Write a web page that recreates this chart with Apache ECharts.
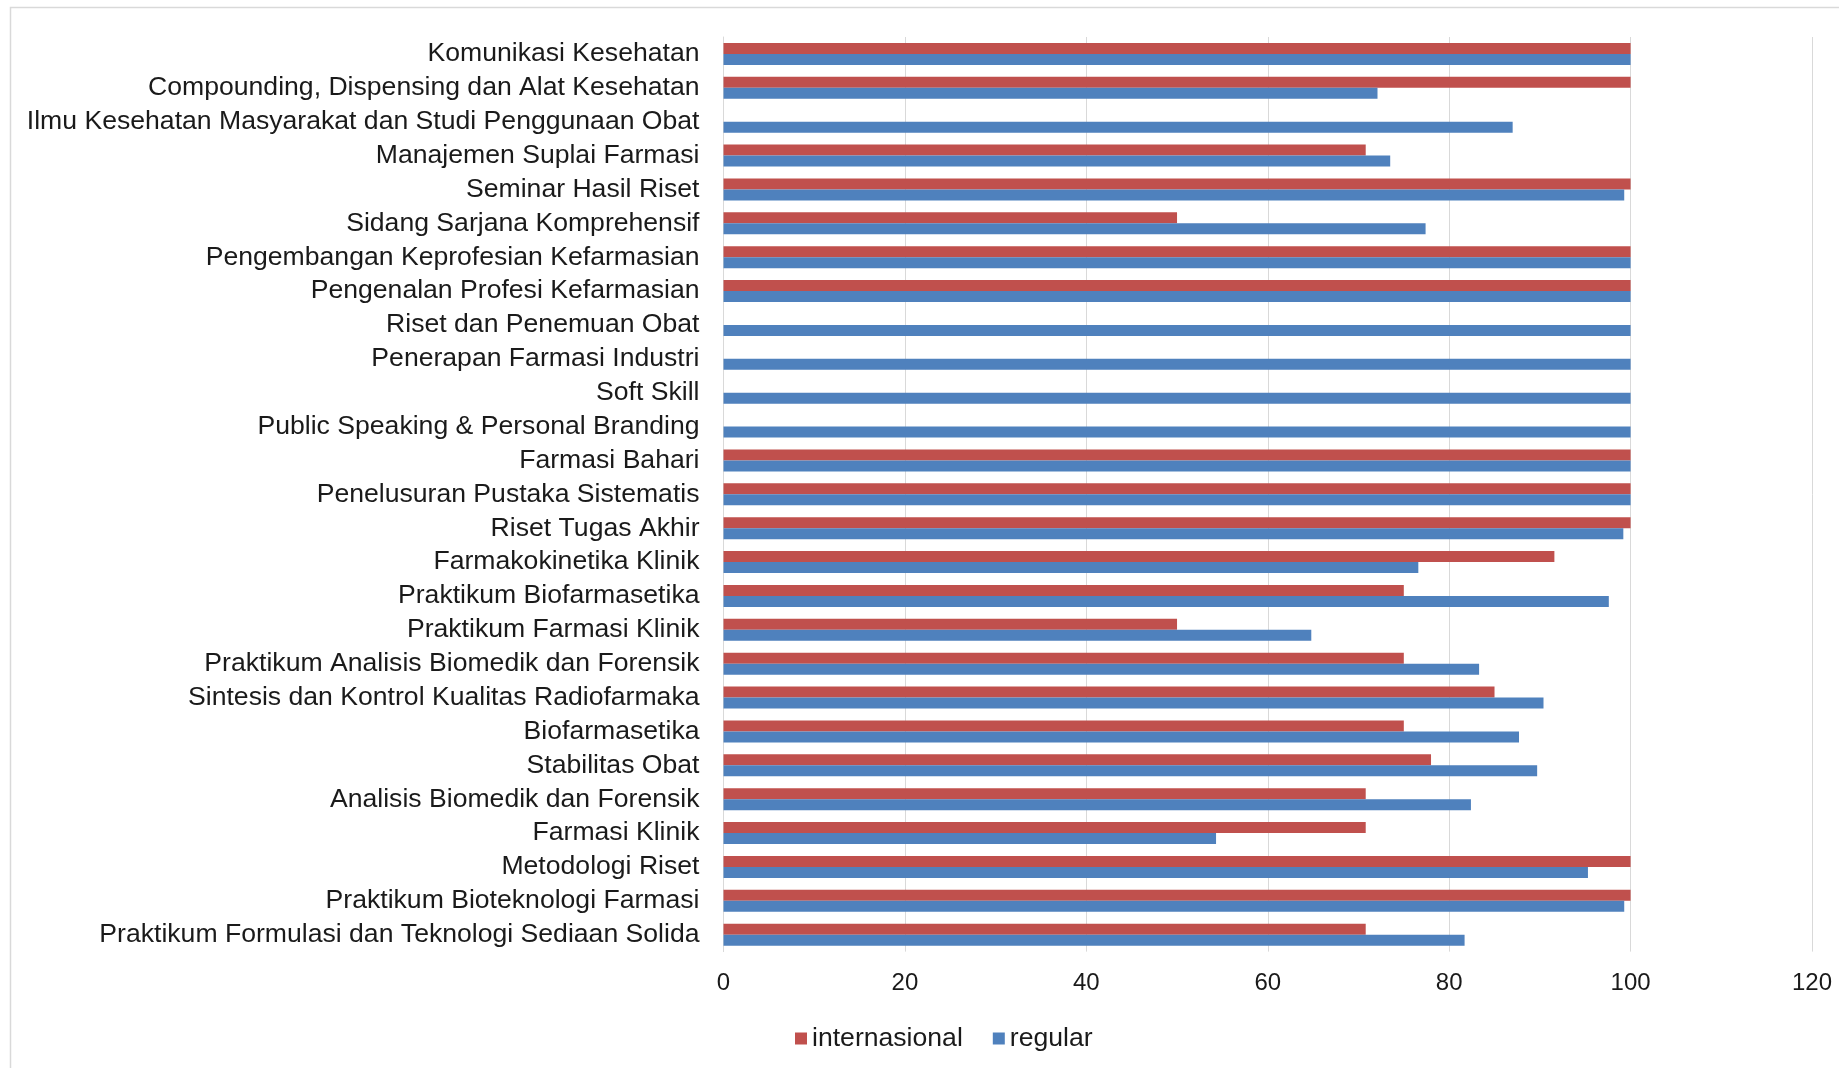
<!DOCTYPE html>
<html>
<head>
<meta charset="utf-8">
<script src="https://cdn.jsdelivr.net/npm/echarts@6/dist/echarts.min.js"></script>
<style>
html,body{margin:0;padding:0;background:#fff;}
#chart{width:1839px;height:1068px;}
</style>
</head>
<body>
<div id="chart"></div>
<script>
const categories = [
  "Komunikasi Kesehatan",
  "Compounding, Dispensing dan Alat Kesehatan",
  "Ilmu Kesehatan Masyarakat dan Studi Penggunaan Obat",
  "Manajemen Suplai Farmasi",
  "Seminar Hasil Riset",
  "Sidang Sarjana Komprehensif",
  "Pengembangan Keprofesian Kefarmasian",
  "Pengenalan Profesi Kefarmasian",
  "Riset dan Penemuan Obat",
  "Penerapan Farmasi Industri",
  "Soft Skill",
  "Public Speaking & Personal Branding",
  "Farmasi Bahari",
  "Penelusuran Pustaka Sistematis",
  "Riset Tugas Akhir",
  "Farmakokinetika Klinik",
  "Praktikum Biofarmasetika",
  "Praktikum Farmasi Klinik",
  "Praktikum Analisis Biomedik dan Forensik",
  "Sintesis dan Kontrol Kualitas Radiofarmaka",
  "Biofarmasetika",
  "Stabilitas Obat",
  "Analisis Biomedik dan Forensik",
  "Farmasi Klinik",
  "Metodologi Riset",
  "Praktikum Bioteknologi Farmasi",
  "Praktikum Formulasi dan Teknologi Sediaan Solida"
];
const internasional = [100, 100, null, 70.8, 100, 50, 100, 100, null, null, null, null, 100, 100, 100, 91.6, 75, 50, 75, 85, 75, 78, 70.8, 70.8, 100, 100, 70.8];
const regular = [100, 72.1, 87, 73.5, 99.3, 77.4, 100, 100, 100, 100, 100, 100, 100, 100, 99.2, 76.6, 97.6, 64.8, 83.3, 90.4, 87.7, 89.7, 82.4, 54.3, 95.3, 99.3, 81.7];
const seriesNames = ["internasional", "regular"];
const xTicks = { min: 0, max: 120, interval: 20 };

const chart = echarts.init(document.getElementById('chart'));
const font = "'Liberation Sans', Arial, sans-serif";
chart.setOption({
  backgroundColor: '#ffffff',
  animation: false,
  graphic: [{
    type: 'rect', left: 8, top: 5,
    shape: { width: 1830, height: 1062 },
    style: { fill: 'none', stroke: '#d9d9d9', lineWidth: 1.5 },
    silent: true
  }],
  legend: {
    data: seriesNames,
    left: 790, top: 1020,
    itemWidth: 12, itemHeight: 12, itemGap: 30,
    icon: 'rect',
    textStyle: { fontFamily: font, fontSize: 26.6, color: '#1a1a1a', padding: [0, 0, 0, 0] }
  },
  grid: { left: 723.5, right: 27, top: 37, bottom: 116.4, containLabel: false },
  xAxis: {
    type: 'value', min: xTicks.min, max: xTicks.max, interval: xTicks.interval,
    axisLine: { show: false }, axisTick: { show: false },
    splitLine: { show: true, lineStyle: { color: '#d9d9d9', width: 1 } },
    axisLabel: { fontFamily: font, fontSize: 24, color: '#1a1a1a', margin: 20 }
  },
  yAxis: {
    type: 'category', data: categories, inverse: true,
    axisLine: { show: true, lineStyle: { color: '#d9d9d9', width: 1 } },
    axisTick: { show: false },
    axisLabel: { fontFamily: font, fontSize: 26.6, color: '#1a1a1a', margin: 24, interval: 0 }
  },
  series: [
    { name: seriesNames[0], type: 'bar', data: internasional, barWidth: 11, barGap: '0%',
      itemStyle: { color: '#C0504D' } },
    { name: seriesNames[1], type: 'bar', data: regular, barWidth: 11, barGap: '0%',
      itemStyle: { color: '#4F81BD' } }
  ]
});
</script>
</body>
</html>
